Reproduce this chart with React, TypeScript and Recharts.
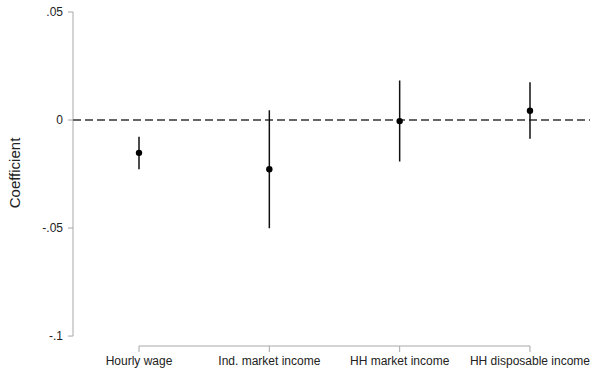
import React from 'react';
import {
  ComposedChart, Scatter, ErrorBar, XAxis, YAxis, ReferenceLine, Label,
} from 'recharts';

// Coefficient plot: point estimates with confidence intervals
const categories = ['Hourly wage', 'Ind. market income', 'HH market income', 'HH disposable income'];
const coef = [-0.0152, -0.0228, -0.0005, 0.0043];
const ciLow = [-0.0228, -0.0501, -0.0192, -0.0087];
const ciHigh = [-0.0078, 0.0045, 0.0183, 0.0175];
const yTicks = [-0.1, -0.05, 0, 0.05];
const yTickLabels = ['-.1', '-.05', '0', '.05'];

const rows = categories.map((name, i) => ({
  pos: i + 1,
  name,
  coef: coef[i],
  err: [coef[i] - ciLow[i], ciHigh[i] - coef[i]],
}));

const X_MIN = 0.4936;
const X_MAX = 4.4604;
const Y_MIN = -0.1046;
const Y_MAX = 0.05;
const AXIS = '#a8a8a8';
const FONT = '"Liberation Sans", Arial, sans-serif';

export default function App() {
  return (
    <div style={{ position: 'absolute', left: 0, top: 0, width: 590, height: 369, background: '#fff' }}>
      <ComposedChart width={590} height={369} margin={{ top: 12, right: 0, bottom: 0, left: 0 }}>
        <XAxis
          type="number"
          dataKey="pos"
          domain={[X_MIN, X_MAX]}
          ticks={[1, 2, 3, 4]}
          tickFormatter={(v: number) => categories[v - 1] ?? ''}
          axisLine={false}
          tickLine={{ stroke: AXIS }}
          tickSize={6}
          tickMargin={4}
          height={23}
          interval={0}
          allowDataOverflow
          tick={{ fill: '#222', fontSize: 12, fontFamily: FONT }}
        />
        <YAxis
          type="number"
          domain={[Y_MIN, Y_MAX]}
          ticks={yTicks}
          tickFormatter={(v: number) => yTickLabels[yTicks.indexOf(v)] ?? String(v)}
          axisLine={false}
          tickLine={{ stroke: AXIS }}
          tickSize={5}
          tickMargin={5}
          width={73}
          allowDataOverflow
          tick={{ fill: '#222', fontSize: 12, fontFamily: FONT }}
        >
          <Label
            content={(props: any) => {
              const vb = props.viewBox || {};
              const cx = (vb.x ?? 0) + 14;
              const cy = (vb.y ?? 0) + ((vb.height ?? 0) - 12) / 2;
              return (
                <text
                  x={cx}
                  y={cy}
                  transform={`rotate(-90 ${cx} ${cy})`}
                  textAnchor="middle"
                  dominantBaseline="central"
                  fill="#222"
                  fontSize={15}
                  fontFamily={FONT}
                >
                  Coefficient
                </text>
              );
            }}
          />
        </YAxis>
        {/* axis lines only span the tick range */}
        <ReferenceLine
          segment={[{ x: X_MIN, y: -0.1 }, { x: X_MIN, y: 0.05 }]}
          stroke={AXIS}
          strokeWidth={1}
          ifOverflow="visible"
        />
        <ReferenceLine
          segment={[{ x: 1, y: Y_MIN }, { x: 4, y: Y_MIN }]}
          stroke={AXIS}
          strokeWidth={1}
          ifOverflow="visible"
        />
        <ReferenceLine y={0} stroke="#666" strokeWidth={2} strokeDasharray="8 4" />
        <Scatter
          data={rows}
          dataKey="coef"
          isAnimationActive={false}
          shape={(p: any) => <circle cx={p.cx} cy={p.cy} r={3.2} fill="#000" />}
        >
          <ErrorBar dataKey="err" direction="y" width={0} stroke="#111" strokeWidth={1.5} />
        </Scatter>
      </ComposedChart>
    </div>
  );
}
